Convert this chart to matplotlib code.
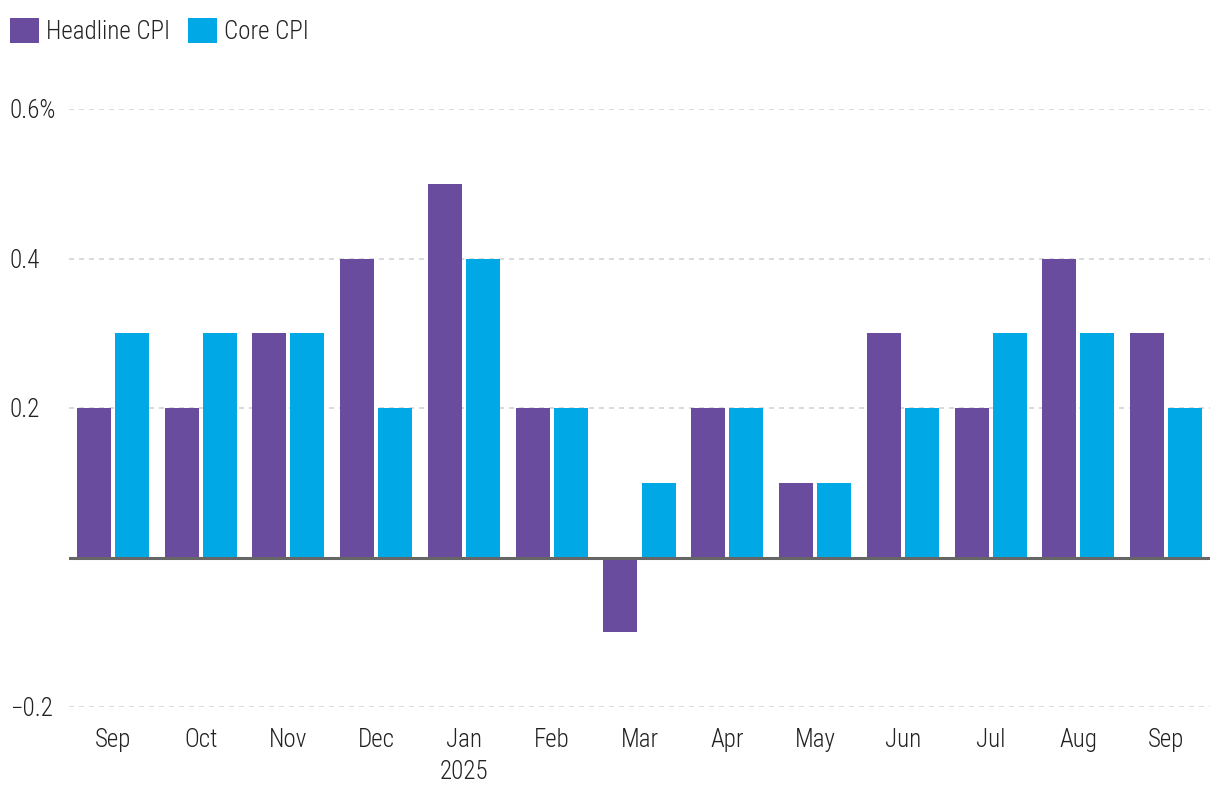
import matplotlib
matplotlib.use("Agg")
import matplotlib.pyplot as plt
import numpy as np

months = ["Sep", "Oct", "Nov", "Dec", "Jan\n2025", "Feb", "Mar", "Apr", "May", "Jun", "Jul", "Aug", "Sep"]
headline = [0.2, 0.2, 0.3, 0.4, 0.5, 0.2, -0.1, 0.2, 0.1, 0.3, 0.2, 0.4, 0.3]
core = [0.3, 0.3, 0.3, 0.2, 0.4, 0.2, 0.1, 0.2, 0.1, 0.2, 0.3, 0.3, 0.2]
yticks = [-0.2, 0.2, 0.4, 0.6]
ytick_labels = ["\u22120.2", "0.2", "0.4", "0.6%"]

plt.rcParams['font.family'] = ['Roboto Condensed', 'Archivo Narrow', 'IBM Plex Sans Condensed',
                               'Roboto', 'DejaVu Sans']
plt.rcParams['font.weight'] = 'light'
TXT = "#222222"
PURPLE = "#6A4C9E"
CYAN = "#00A9E6"

fig = plt.figure(figsize=(12.2, 8.1), dpi=100)
ax = fig.add_axes([69/1220, 1 - 707/810, (1210-69)/1220, (707-109)/810])

x = np.arange(len(months))
w = 0.388
off = 0.217
b1 = ax.bar(x - off, headline, width=w, color=PURPLE, label="Headline CPI", zorder=2)
b2 = ax.bar(x + off, core, width=w, color=CYAN, label="Core CPI", zorder=2)

ax.set_xlim(-0.5, 12.5)
ax.set_ylim(-0.2, 0.6)
for s in ax.spines.values():
    s.set_visible(False)

for yv in yticks:
    ax.axhline(yv, color="#d4d4d4", lw=1.2, ls=(0, (3, 3)), zorder=1)
ax.axhline(0, color="#666666", lw=2.2, zorder=3)

ax.set_yticks(yticks)
ax.set_yticklabels(ytick_labels, fontsize=18, color=TXT)
for lab in ax.get_yticklabels():
    lab.set_horizontalalignment("left")
ax.tick_params(axis="y", length=0, pad=42.5)

ax.set_xticks(x)
ax.set_xticklabels(months, fontsize=18, color=TXT, linespacing=1.45)
ax.tick_params(axis="x", length=0, pad=15)

leg = ax.legend(handles=[b1, b2], loc="upper left", bbox_to_anchor=(10/1220, 1 - 18/810),
                bbox_transform=fig.transFigure, ncol=2, frameon=False,
                fontsize=18, handlelength=1.15, handleheight=1.15,
                handletextpad=0.3, columnspacing=0.7, borderaxespad=0.0,
                borderpad=0.0, labelcolor=TXT)

fig.savefig("out.png", dpi=100)
